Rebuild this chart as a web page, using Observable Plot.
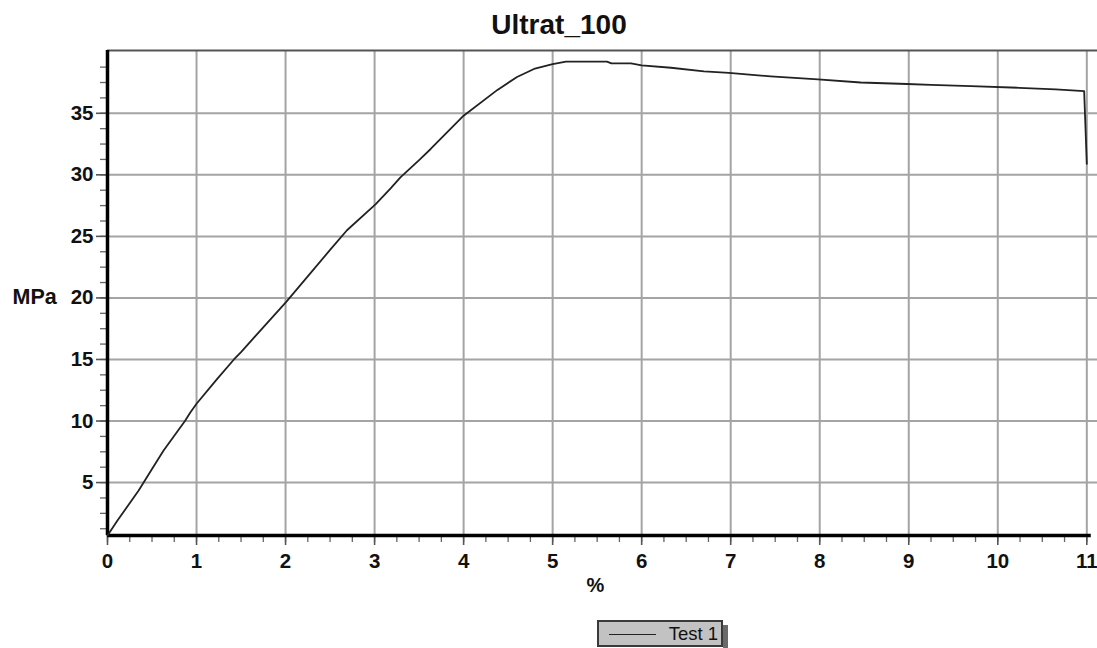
<!DOCTYPE html>
<html>
<head>
<meta charset="utf-8">
<script src="https://cdn.jsdelivr.net/npm/d3@7"></script>
<script src="https://cdn.jsdelivr.net/npm/@observablehq/plot@0.6"></script>
<style>
  body { margin: 0; background: #fff; font-family: "Liberation Sans", Arial, sans-serif; width: 1097px; height: 648px; position: relative; overflow: hidden; }
  #title { position: absolute; left: 0; top: 5px; width: 1118px; text-align: center; font-weight: bold; font-size: 28px; line-height: 40px; color: #111; }
  #chart { position: absolute; left: 0; top: 40px; }
  #legend { position: absolute; left: 597px; top: 620px; width: 126px; height: 27px; box-sizing: border-box; background: #c2c2c2; border: 2px solid #3a3a3a; }
  #legend .swatch { position: absolute; left: 10px; top: 12px; width: 47px; height: 0; border-top: 1.6px solid #222; }
  #legend .lbl { position: absolute; right: 3px; top: 2px; font-size: 18.5px; line-height: 20px; color: #111; }
  #shadow { position: absolute; left: 723px; top: 625px; width: 5px; height: 23px; background: #6a6a6a; }
</style>
</head>
<body>
<div id="title"></div>
<div id="chart"></div>
<div id="legend"><div class="swatch"></div><div class="lbl"></div></div>
<div id="shadow"></div>
<script>
const title = "Ultrat_100";
const xLabel = "%";
const yLabel = "MPa";
const seriesName = "Test 1";

// strain (%) and stress (MPa)
const strain = [0, 0.11, 0.35, 0.5, 0.63, 0.75, 0.87, 0.93, 1.0, 1.23, 1.42, 1.5, 2.01, 2.5, 2.69, 3.01, 3.18, 3.29, 3.5, 3.63, 4.0, 4.38, 4.6, 4.79, 5.0, 5.15, 5.4, 5.61, 5.66, 5.88, 6.0, 6.33, 6.7, 6.98, 7.45, 7.98, 8.46, 8.98, 9.25, 9.7, 10.24, 10.65, 10.97, 11.0];
const stress = [0.7, 1.9, 4.35, 6.1, 7.6, 8.8, 10.0, 10.7, 11.4, 13.4, 15.0, 15.6, 19.7, 23.9, 25.5, 27.6, 28.9, 29.8, 31.2, 32.1, 34.8, 36.9, 37.95, 38.6, 39.0, 39.2, 39.2, 39.2, 39.05, 39.05, 38.9, 38.7, 38.4, 38.28, 38.0, 37.76, 37.5, 37.38, 37.3, 37.2, 37.07, 36.94, 36.8, 30.9];

const xTicks = [0, 1, 2, 3, 4, 5, 6, 7, 8, 9, 10, 11];
const xGrid = [1, 2, 3, 4, 5, 6, 7, 8, 9, 10, 11];
const xMinor = d3.range(0, 11.01, 0.25);
const yTicks = [5, 10, 15, 20, 25, 30, 35];
const yMinor = d3.range(1.25, 39.9, 1.25);
const xDomain = [0, 11.12];
const yDomain = [0.7, 40.1];
const xAxisEnd = 11.05;

const data = strain.map((x, i) => ({x, y: stress[i]}));

document.getElementById("title").textContent = title;
document.querySelector("#legend .lbl").textContent = seriesName;

const chart = Plot.plot({
  width: 1097,
  height: 560,
  marginTop: 10,
  marginBottom: 65,
  marginLeft: 107,
  marginRight: 0,
  style: { fontFamily: "'Liberation Sans', Arial, sans-serif", fontSize: "20px", fontWeight: "bold", color: "#111", background: "white", overflow: "visible" },
  x: { domain: xDomain, axis: null },
  y: { domain: yDomain, axis: null },
  marks: [
    Plot.ruleX(xGrid, { stroke: "#a4a4a4", strokeWidth: 2 }),
    Plot.ruleY(yTicks, { stroke: "#a4a4a4", strokeWidth: 2 }),
    Plot.ruleY([yDomain[1]], { stroke: "#555", strokeWidth: 2 }),
    Plot.axisX(xMinor, { tickSize: 7, tickFormat: () => "", stroke: "#666", strokeWidth: 1.3, label: null }),
    Plot.axisX(xTicks, { tickSize: 10, tickPadding: 8, stroke: "#555", strokeWidth: 1.6, label: null, fill: "#111", fontSize: 20.5, fontWeight: "bold" }),
    Plot.axisY(yMinor, { tickSize: 7, tickFormat: () => "", stroke: "#666", strokeWidth: 1.3, label: null }),
    Plot.axisY(yTicks, { tickSize: 11, tickPadding: 3, stroke: "#555", strokeWidth: 1.6, label: null, fill: "#111", fontSize: 20.5, fontWeight: "bold" }),
    Plot.ruleX([0], { stroke: "#000", strokeWidth: 3.5 }),
    Plot.ruleY([yDomain[0]], { x1: 0, x2: xAxisEnd, stroke: "#000", strokeWidth: 3.5 }),
    Plot.line(data, { x: "x", y: "y", stroke: "#222", strokeWidth: 1.8 }),
    Plot.text([yLabel], { frameAnchor: "left", dx: -95, dy: 4, textAnchor: "start", fontSize: 21.5, fontWeight: "bold", fill: "#111" }),
    Plot.text([xLabel], { frameAnchor: "bottom", dx: -7, dy: 56, fontSize: 20, fontWeight: "bold", fill: "#111" })
  ]
});
document.getElementById("chart").appendChild(chart);
</script>
</body>
</html>
